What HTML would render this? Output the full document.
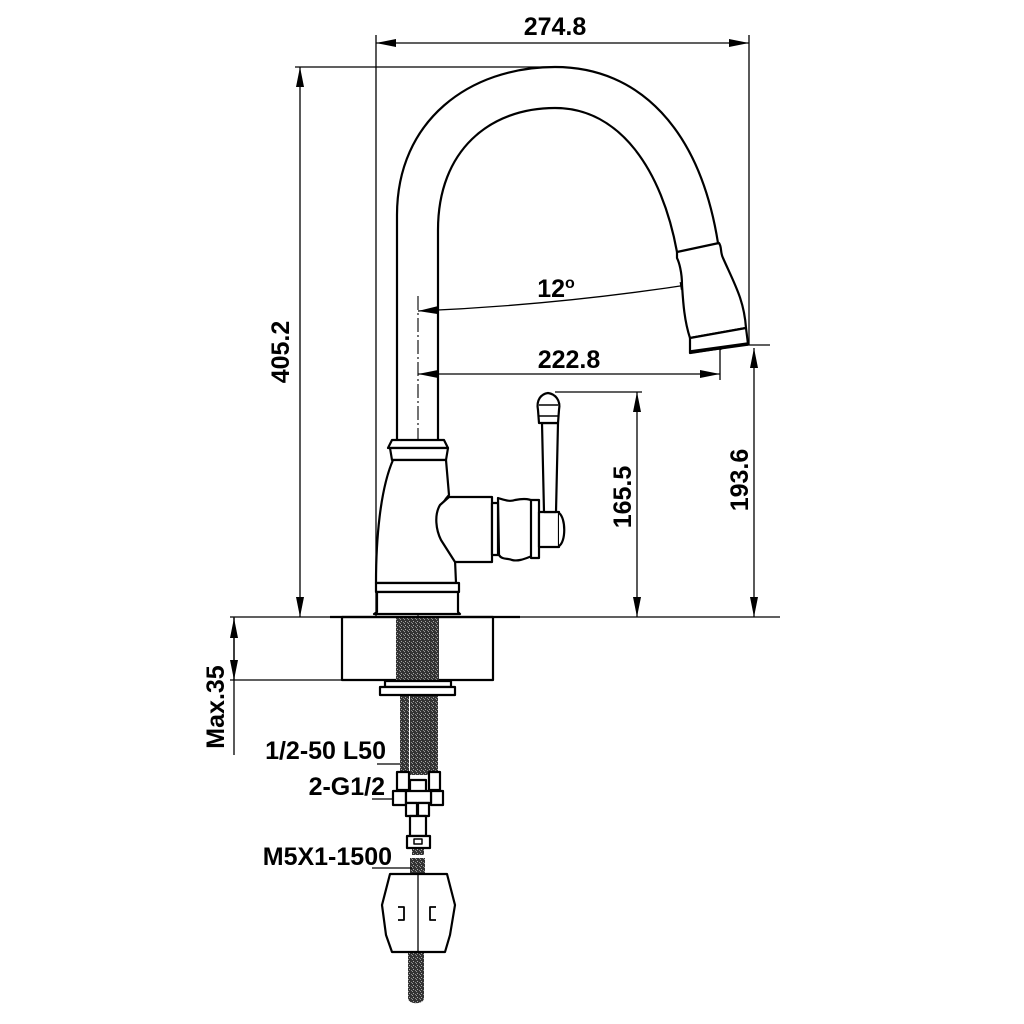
<!DOCTYPE html>
<html><head><meta charset="utf-8"><style>
html,body{margin:0;padding:0;background:#fff}
svg{display:block}
text{font-family:"Liberation Sans",Arial,sans-serif;font-weight:bold;fill:#000}
</style></head><body>
<svg width="1024" height="1024" viewBox="0 0 1024 1024" xmlns="http://www.w3.org/2000/svg">
<defs>
<pattern id="hat" width="4" height="4" patternUnits="userSpaceOnUse">
<rect width="4" height="4" fill="#333"/><rect x="1" y="1" width="1" height="1" fill="#aaa"/><rect x="3" y="2" width="1" height="1" fill="#888"/><rect x="0" y="3" width="1" height="1" fill="#999"/>
</pattern>
<marker id="b" viewBox="0 0 20 10" refX="20" refY="5" markerWidth="26" markerHeight="10" markerUnits="userSpaceOnUse" orient="auto-start-reverse"><path d="M0,1 L20,5 L0,9z" fill="#000"/></marker>
</defs>
<g stroke="#000" fill="none" stroke-width="1.3">
<line x1="376" y1="35" x2="376" y2="617"/>
<line x1="749" y1="35" x2="749" y2="345"/>
<line x1="295" y1="67" x2="555" y2="67"/>
<line x1="555" y1="392" x2="642" y2="392"/>
<line x1="722" y1="345" x2="770" y2="345"/>
<line x1="230" y1="617" x2="780" y2="617"/>
<line x1="230" y1="680" x2="342" y2="680"/>
<line x1="720" y1="342" x2="720" y2="380"/>
<line x1="376" y1="43" x2="749" y2="43" marker-start="url(#b)" marker-end="url(#b)"/>
<line x1="300" y1="67" x2="300" y2="617" marker-start="url(#b)" marker-end="url(#b)"/>
<line x1="418" y1="374" x2="720" y2="374" marker-start="url(#b)" marker-end="url(#b)"/>
<line x1="637" y1="392" x2="637" y2="617" marker-start="url(#b)" marker-end="url(#b)"/>
<line x1="754" y1="348" x2="754" y2="617" marker-start="url(#b)" marker-end="url(#b)"/>
<path d="M418,311 Q560,305 700,283" marker-start="url(#b)" marker-end="url(#b)"/>
<line x1="234" y1="617" x2="234" y2="755"/>
<line x1="234" y1="650" x2="234" y2="618" marker-end="url(#b)"/>
<line x1="234" y1="650" x2="234" y2="680" marker-end="url(#b)"/>
<line x1="418" y1="296" x2="418" y2="700" stroke-dasharray="14,3,2,3" stroke-width="1.1"/>
<line x1="704" y1="282" x2="721" y2="350" stroke-dasharray="12,3,2,3" stroke-width="1.1"/>
</g>
<g stroke="#000" fill="#fff" stroke-width="2.2" stroke-linejoin="round">
<path d="M397,442 V215 C397,120 470,67 555,67 C640,67 700,130 718,243" fill="none"/>
<path d="M438,442 V230 C438,150 490,108 555,108 C620,108 662,170 677,252" fill="none"/>
<path d="M677,252 L719,243 C722,247 720,252 723,258 C735,285 744,300 746,328 L690,338 C684,320 683,300 682,285 C682,272 679,262 677,258 Z"/>
<path d="M690,338 L746,328 L748,344 L690,353 Z"/>
<line x1="690" y1="352" x2="748" y2="344" stroke-width="3.5"/>
<path d="M392,440 H444 L448,448 H388 Z"/>
<path d="M390,448 H448 L446,460 H392 Z"/>
<path d="M393,460 H446 L449,495 C440,505 437,515 441,523 L455,560 L456,583 H376 C376,540 380,490 393,460 Z"/>
<path d="M376,583 H459 V592 H376 Z"/>
<path d="M377,592 H458 V612 L460,614 H374 L377,612 Z"/>
<path d="M449,497 H492 V562 H455 L441,540 C436,530 434,515 440,505 Z"/>
<path d="M492,503 H498 V555 H492 Z"/>
<path d="M498,498 C505,500 510,502 515,500 C525,498 530,499 535,502 V555 C528,557 520,562 512,560 C508,558 502,560 499,555 Z"/>
<rect x="531" y="500" width="8" height="58"/>
<rect x="539" y="512" width="20" height="35"/>
<path d="M559,513 C566,518 566,542 559,546"/>
<path d="M542,423 H558 L556,512 H544 Z"/>
<path d="M538,410 C536,400 541,394 548,393 C555,394 561,400 559,410 L558,423 H539 Z"/>
<line x1="539" y1="405" x2="558" y2="405" stroke-width="1.6"/>
<line x1="538" y1="416" x2="559" y2="416" stroke-width="1.6"/>
<rect x="342" y="617" width="151" height="63"/>
<line x1="330" y1="617" x2="520" y2="617"/>
</g>
<rect x="396" y="618" width="43" height="62" fill="url(#hat)"/>
<rect x="410" y="695" width="28" height="80" fill="url(#hat)"/>
<rect x="400" y="695" width="9" height="80" fill="url(#hat)"/>
<g stroke="#000" fill="#fff" stroke-width="2.2" stroke-linejoin="round">
<rect x="385" y="681" width="66" height="6"/>
<rect x="380" y="687" width="75" height="8"/>
<rect x="397" y="772" width="12" height="18"/>
<rect x="429" y="772" width="11" height="18"/>
<rect x="410" y="780" width="16" height="12"/>
<rect x="393" y="791" width="13" height="14"/>
<rect x="431" y="791" width="12" height="14"/>
<rect x="406" y="791" width="25" height="12"/>
<rect x="406" y="803" width="11" height="13"/>
<rect x="418" y="803" width="11" height="13"/>
<rect x="410" y="816" width="16" height="20"/>
<rect x="407" y="836" width="23" height="12"/>
<rect x="414" y="839" width="8" height="5" stroke-width="1.5"/>
</g>
<rect x="412" y="849" width="12" height="6" fill="url(#hat)"/>
<rect x="410" y="858" width="15" height="18" fill="url(#hat)"/>
<path d="M408,950 H424 V998 C424,1005 408,1005 408,998 Z" fill="url(#hat)"/>
<g stroke="#000" fill="#fff" stroke-width="2.2" stroke-linejoin="round">
<path d="M390,874 H447 L455,905 L450,935 L445,952 H392 L386,935 L382,905 Z"/>
<line x1="418" y1="874" x2="418" y2="952" stroke-width="1.3"/>
<path d="M398,907 H404 V920 H398" fill="none" stroke-width="1.8"/>
<path d="M436,907 H430 V920 H436" fill="none" stroke-width="1.8"/>
</g>
<g stroke="#000" stroke-width="1.2">
<line x1="377" y1="764" x2="400" y2="764"/>
<line x1="372" y1="799" x2="393" y2="799"/>
<line x1="372" y1="868" x2="412" y2="868"/>
</g>
<text x="555" y="35" font-size="25" text-anchor="middle">274.8</text>
<text x="556" y="297" font-size="25" text-anchor="middle">12<tspan font-size="16" dy="-9">o</tspan></text>
<text x="569" y="368" font-size="25" text-anchor="middle">222.8</text>
<text transform="translate(289,352) rotate(-90)" font-size="25" text-anchor="middle">405.2</text>
<text transform="translate(631,497) rotate(-90)" font-size="25" text-anchor="middle">165.5</text>
<text transform="translate(748,480) rotate(-90)" font-size="25" text-anchor="middle">193.6</text>
<text transform="translate(224,707) rotate(-90)" font-size="25" text-anchor="middle">Max.35</text>
<text x="386" y="759" font-size="25" text-anchor="end">1/2-50 L50</text>
<text x="385" y="795" font-size="25" text-anchor="end">2-G1/2</text>
<text x="392" y="865" font-size="25" text-anchor="end">M5X1-1500</text>
</svg>
</body></html>
